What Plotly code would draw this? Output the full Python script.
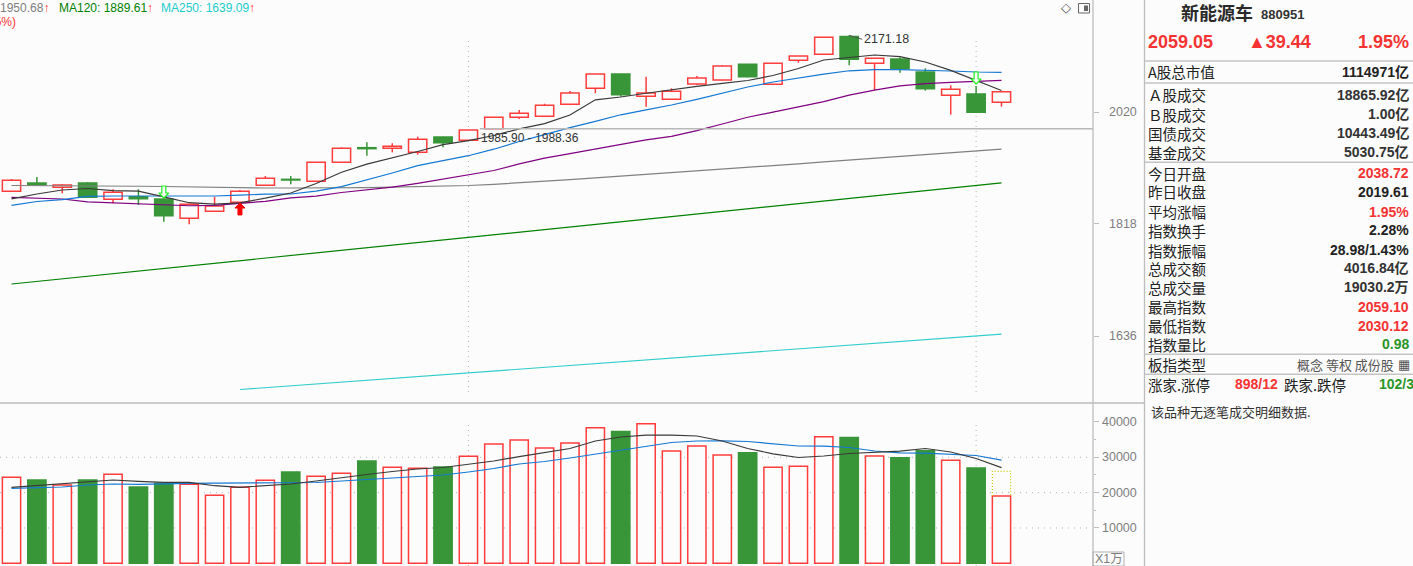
import math
import plotly.graph_objects as go

W, H = 1413, 566
BG = "#fcfcfc"
RED = "#ff3c3c"
GREEN = "#389638"
TXT_RED = "#f53333"
TXT_GREEN = "#2a962a"
DARK = "#222222"
AXIS_GRAY = "#bdbdbd"

# ---------------- data ----------------
idx = list(range(40))
opens = [1874.7, 1889.4, 1881.8, 1889.4, 1860.7, 1865.2, 1861.2, 1827.7, 1839.8, 1855.4,
         1885.3, 1896.0, 1892.5, 1926.6, 1953.3, 1952.2, 1944.8, 1973.0, 1966.9, 1988.36,
         2009.9, 2011.8, 2034.7, 2065.6, 2093.5, 2050.1, 2044.3, 2073.9, 2081.8, 2112.7,
         2073.4, 2120.7, 2132.7, 2169.0, 2114.7, 2123.3, 2097.5, 2052.0, 2054.5, 2038.72]
highs = [1896.6, 1900.1, 1887.6, 1891.2, 1878.3, 1878.3, 1862.0, 1853.0, 1865.2, 1877.0,
         1901.9, 1901.9, 1927.0, 1954.0, 1963.2, 1961.4, 1973.6, 1973.5, 1985.9, 2010.5,
         2023.8, 2035.8, 2060.3, 2094.0, 2094.0, 2088.2, 2065.6, 2089.6, 2111.0, 2113.0,
         2115.0, 2129.5, 2167.5, 2171.18, 2125.0, 2126.7, 2104.8, 2071.4, 2070.0, 2059.10]
lows = [1874.0, 1884.6, 1871.2, 1863.5, 1853.7, 1850.9, 1821.9, 1817.4, 1839.0, 1855.0,
        1885.0, 1887.1, 1892.0, 1926.0, 1938.6, 1944.8, 1940.5, 1954.0, 1966.0, 1988.36,
        2006.7, 2011.0, 2034.0, 2055.9, 2049.3, 2030.1, 2044.0, 2072.0, 2081.0, 2087.0,
        2073.0, 2115.9, 2132.0, 2110.8, 2062.3, 2096.1, 2060.9, 2014.9, 2019.0, 2030.12]
closes = [1894.2, 1886.5, 1885.9, 1864.2, 1873.0, 1861.7, 1832.2, 1852.0, 1849.0, 1874.7,
          1897.8, 1894.8, 1926.6, 1952.2, 1951.5, 1955.8, 1968.8, 1962.5, 1985.9, 2009.9,
          2017.5, 2032.8, 2056.4, 2093.5, 2053.1, 2056.4, 2059.7, 2085.7, 2109.4, 2088.2,
          2114.7, 2129.3, 2167.1, 2122.7, 2124.7, 2104.0, 2064.8, 2063.6, 2019.61, 2059.05]

volumes = [24340, 23580, 22160, 23580, 25190, 21600, 22640, 22360, 19250, 21510,
           23490, 25840, 24620, 25470, 28960, 27170, 26890, 27260, 30290, 33770,
           34930, 32630, 34080, 38380, 37330, 39510, 31780, 33200, 30630, 31300,
           27170, 27460, 35800, 35610, 30340, 29860, 31870, 29180, 26970, 19030]
vol_estimate_last = 26040

vol_ma5 = [21510, 22020, 22500, 23010, 23580, 23210, 22930, 22930, 21960, 21510,
           21880, 22450, 23290, 24290, 25130, 25980, 26690, 27120, 27960, 28950,
           30200, 31360, 32490, 34620, 35750, 36260, 36260, 36030, 34620, 32490,
           30990, 29950, 30370, 31080, 31500, 31730, 32490, 31500, 29660, 27090]
vol_ma10 = [21230, 21400, 21600, 22160, 22450, 22360, 22590, 22640, 22670, 22730,
            22730, 22730, 22870, 23290, 23630, 24140, 24570, 24990, 25840, 26830,
            28110, 28810, 29800, 30940, 32070, 33200, 34190, 34620, 34670, 34470,
            33770, 33200, 33140, 32780, 31790, 31250, 31160, 30850, 30510, 29180]

ma5 = [1861.5, 1870.0, 1877.0, 1879.7, 1876.1, 1874.9, 1864.9, 1854.7, 1852.1, 1854.6,
       1862.6, 1871.8, 1888.5, 1908.6, 1923.2, 1934.4, 1946.3, 1958.8, 1966.2, 1975.8,
       1988.3, 1997.9, 2014.3, 2043.3, 2048.7, 2055.9, 2063.2, 2069.4, 2075.0, 2080.8,
       2090.6, 2104.4, 2121.3, 2126.5, 2131.3, 2127.9, 2117.3, 2100.8, 2080.6, 2061.3]
ma10 = [1850.2, 1856.8, 1860.2, 1865.8, 1866.5, 1866.5, 1866.5, 1866.5, 1866.5, 1867.9,
        1869.8, 1870.0, 1874.9, 1882.9, 1894.4, 1907.3, 1920.5, 1929.3, 1938.6, 1950.5,
        1964.7, 1977.5, 1990.6, 2002.2, 2014.7, 2024.2, 2033.4, 2044.3, 2055.9, 2068.1,
        2077.8, 2086.1, 2093.3, 2099.9, 2102.2, 2102.2, 2101.2, 2099.5, 2097.5, 2096.9]
ma20 = [1863.9, 1863.0, 1861.2, 1856.1, 1854.6, 1852.6, 1850.4, 1849.4, 1849.9, 1853.1,
        1857.2, 1863.3, 1866.1, 1872.6, 1877.5, 1882.0, 1888.7, 1896.6, 1903.5, 1911.8,
        1923.7, 1934.3, 1942.3, 1950.9, 1959.1, 1967.8, 1974.3, 1985.0, 1997.3, 2010.1,
        2019.8, 2029.1, 2039.7, 2052.2, 2062.1, 2070.4, 2074.7, 2077.3, 2079.2, 2081.2]
ma60 = [1885.0, 1885.0, 1884.6, 1884.6, 1884.1, 1883.7, 1883.2, 1882.3, 1881.8, 1881.1,
        1880.6, 1880.6, 1880.6, 1881.1, 1881.4, 1882.0, 1882.7, 1883.5, 1885.0, 1887.1,
        1889.4, 1892.5, 1895.3, 1898.4, 1901.4, 1904.5, 1907.7, 1910.9, 1914.2, 1917.4,
        1920.7, 1923.9, 1927.2, 1930.5, 1933.9, 1937.2, 1940.6, 1944.1, 1947.4, 1950.68]
ma120 = [1718.1, 1722.3, 1726.5, 1730.7, 1735.0, 1739.2, 1743.5, 1747.7, 1752.0, 1756.3,
         1760.6, 1764.9, 1769.2, 1773.5, 1777.9, 1782.2, 1786.6, 1791.0, 1795.3, 1799.7,
         1804.1, 1808.5, 1813.0, 1817.4, 1821.8, 1826.3, 1830.8, 1835.2, 1839.7, 1844.2,
         1848.7, 1853.2, 1857.8, 1862.3, 1866.9, 1871.4, 1876.0, 1880.6, 1885.2, 1889.61]
ma250 = [None] * 9 + [1555.7, 1558.4, 1561.1, 1563.8, 1566.6, 1569.3, 1572.0, 1574.8,
                      1577.5, 1580.3, 1583.0, 1585.8, 1588.5, 1591.3, 1594.1, 1596.8,
                      1599.6, 1602.4, 1605.2, 1608.0, 1610.8, 1613.6, 1616.4, 1619.2,
                      1622.1, 1624.9, 1627.7, 1630.6, 1633.4, 1636.3, 1639.09]

sell_idx = [6, 38]
sell_price = [1873.5, 2085.7]
buy_idx = [9]
buy_price = [1843.8]

gap_idx = 18
gap_low, gap_high = 1985.90, 1988.36
peak_idx, peak_value = 33, 2171.18

price_ticks = [2020, 1818, 1636]
vol_ticks = [40000, 30000, 20000, 10000]
vol_grid = [30000, 20000, 10000]
month_marks = [18, 38]

legend_items = [("MA60: 1950.68", "#808080"), ("MA120: 1889.61", "#008000"), ("MA250: 1639.09", "#22cccc")]

panel_title, panel_code = "新能源车", "880951"
panel_price, panel_change, panel_pct = "2059.05", "▲39.44", "1.95%"
panel_rows = [
    ("A股总市值", "1114971亿", DARK),
    ("Ａ股成交", "18865.92亿", "#333333"),
    ("Ｂ股成交", "1.00亿", "#333333"),
    ("国债成交", "10443.49亿", "#333333"),
    ("基金成交", "5030.75亿", "#333333"),
    ("今日开盘", "2038.72", TXT_RED),
    ("昨日收盘", "2019.61", DARK),
    ("平均涨幅", "1.95%", TXT_RED),
    ("指数换手", "2.28%", DARK),
    ("指数振幅", "28.98/1.43%", DARK),
    ("总成交额", "4016.84亿", "#333333"),
    ("总成交量", "19030.2万", "#333333"),
    ("最高指数", "2059.10", TXT_RED),
    ("最低指数", "2030.12", TXT_RED),
    ("指数量比", "0.98", TXT_GREEN),
]
row_y = [71.7, 95, 114, 133, 152.3, 173.3, 191.7, 211.7, 230, 250, 268.3, 287.5, 306.7, 325.8, 344.2]

# ---------------- layout helpers ----------------
def X(px):
    return px / W


def Y(py):
    return 1 - py / H


CJK = "Noto Sans CJK SC"
LAT = "Liberation Sans, Noto Sans CJK SC"

X_RANGE = [-0.453, 42.605]
X_DOMAIN = [0, X(1093)]
PX_PER_IDX = 1093 / (X_RANGE[1] - X_RANGE[0])
PX_PER_LN = 1062.6
P_TOP = 2020 * math.exp(112 / PX_PER_LN)
P_BOT = 2020 * math.exp(-291 / PX_PER_LN)
BAR_W = 0.72

fig = go.Figure()

# ---- candle bodies (bars on log axis) ----
up = [c >= o for o, c in zip(opens, closes)]
body_base = [min(o, c) for o, c in zip(opens, closes)]
body_len = [abs(c - o) for o, c in zip(opens, closes)]
fig.add_trace(go.Bar(
    x=idx, y=body_len, base=body_base, width=BAR_W,
    marker=dict(color=[BG if u else GREEN for u in up],
                line=dict(color=[RED if u else GREEN for u in up], width=1.5)),
    xaxis="x", yaxis="y", showlegend=False, hoverinfo="skip"))

# ---- wicks (outside body) ----
for want_up, col in [(True, RED), (False, GREEN)]:
    wx, wy = [], []
    for k, o, h, l, c, u in zip(idx, opens, highs, lows, closes, up):
        if u != want_up:
            continue
        top, bot = max(o, c), min(o, c)
        if h > top:
            wx += [k, k, None]
            wy += [top, h, None]
        if l < bot:
            wx += [k, k, None]
            wy += [l, bot, None]
    fig.add_trace(go.Scatter(x=wx, y=wy, mode="lines", line=dict(color=col, width=1.5),
                             xaxis="x", yaxis="y", showlegend=False, hoverinfo="skip"))

ma_specs = [(ma250, "#33cccc"), (ma120, "#008000"), (ma60, "#808080"),
            (ma20, "#800080"), (ma10, "#1478d4"), (ma5, "#3a3a3a")]
for series, col in ma_specs:
    fig.add_trace(go.Scatter(x=idx, y=series, mode="lines", line=dict(color=col, width=1.2),
                             xaxis="x", yaxis="y", showlegend=False, hoverinfo="skip"))

# gap line
fig.add_trace(go.Scatter(x=[gap_idx + 0.45, X_RANGE[1]], y=[gap_high, gap_high], mode="lines",
                         line=dict(color="#b8b8b8", width=1.5), xaxis="x", yaxis="y",
                         showlegend=False, hoverinfo="skip"))

# ---- signal arrows (block arrows built around each signal point) ----
ARROW_UP = [(0, -6), (5, -1), (2, -1), (2, 6), (-2, 6), (-2, -1), (-5, -1), (0, -6)]


def arrow_path(k, price, pointing_up):
    xs, ys = [], []
    for dx, dy in ARROW_UP:
        if not pointing_up:
            dy = -dy
        xs.append(k + dx / PX_PER_IDX)
        ys.append(price * math.exp(-dy / PX_PER_LN))
    return xs, ys


for k, p in zip(sell_idx, sell_price):
    ax_, ay_ = arrow_path(k, p, False)
    fig.add_trace(go.Scatter(x=ax_, y=ay_, mode="lines", fill="toself", fillcolor=BG,
                             line=dict(color="#22ee22", width=1.2), xaxis="x", yaxis="y",
                             showlegend=False, hoverinfo="skip"))
for k, p in zip(buy_idx, buy_price):
    ax_, ay_ = arrow_path(k, p, True)
    fig.add_trace(go.Scatter(x=ax_, y=ay_, mode="lines", fill="toself", fillcolor="#ff0000",
                             line=dict(color="#ff0000", width=1), xaxis="x", yaxis="y",
                             showlegend=False, hoverinfo="skip"))

# ---- volume ----
fig.add_trace(go.Bar(x=idx, y=volumes, width=BAR_W,
                     marker=dict(color=[BG if u else GREEN for u in up],
                                 line=dict(color=[RED if u else GREEN for u in up], width=1.5)),
                     xaxis="x2", yaxis="y2", showlegend=False, hoverinfo="skip"))
last = idx[-1]
fig.add_trace(go.Scatter(
    x=[last - BAR_W / 2, last - BAR_W / 2, last + BAR_W / 2, last + BAR_W / 2],
    y=[volumes[-1], vol_estimate_last, vol_estimate_last, volumes[-1]],
    mode="lines", line=dict(color="#c8c800", width=1.2, dash="1px,2px"),
    xaxis="x2", yaxis="y2", showlegend=False, hoverinfo="skip"))
for series, col in [(vol_ma10, "#1478d4"), (vol_ma5, "#3a3a3a")]:
    fig.add_trace(go.Scatter(x=idx, y=series, mode="lines", line=dict(color=col, width=1.2),
                             xaxis="x2", yaxis="y2", showlegend=False, hoverinfo="skip"))

# ---------------- shapes ----------------
shapes = []
DOT = "1px,5px"
for v in price_ticks:
    shapes.append(dict(type="line", xref="paper", yref="y", x0=0, x1=X(1090),
                       y0=math.log10(v), y1=math.log10(v), layer="below",
                       line=dict(color="#b4b4b4", width=1, dash=DOT)))
for v in vol_grid:
    shapes.append(dict(type="line", xref="paper", yref="y2", x0=0, x1=X(1090), y0=v, y1=v,
                       layer="below", line=dict(color="#b4b4b4", width=1, dash=DOT)))
for m in month_marks:
    shapes.append(dict(type="line", xref="x", yref="paper", x0=m, x1=m, y0=Y(392), y1=Y(38),
                       layer="below", line=dict(color="#b4b4b4", width=1, dash="1px,4px")))
    shapes.append(dict(type="line", xref="x2", yref="paper", x0=m, x1=m, y0=0, y1=Y(423),
                       layer="below", line=dict(color="#b4b4b4", width=1, dash="1px,4px")))

# frame lines
shapes.append(dict(type="line", xref="paper", yref="paper", x0=0, x1=X(1144.5), y0=Y(403), y1=Y(403),
                   line=dict(color=AXIS_GRAY, width=1.5)))
shapes.append(dict(type="line", xref="paper", yref="paper", x0=X(1093), x1=X(1093), y0=0, y1=1,
                   line=dict(color=AXIS_GRAY, width=1.3)))
shapes.append(dict(type="line", xref="paper", yref="paper", x0=X(1144.5), x1=X(1144.5), y0=0, y1=1,
                   line=dict(color=AXIS_GRAY, width=1.3)))
for py in [61, 83, 162.3, 354.3, 374.3]:
    shapes.append(dict(type="line", xref="paper", yref="paper", x0=X(1145), x1=1, y0=Y(py), y1=Y(py),
                       line=dict(color="#c4c4c4", width=1.5)))
# X1万 box
shapes.append(dict(type="rect", xref="paper", yref="paper", x0=X(1093), x1=X(1124), y0=Y(566), y1=Y(552),
                   line=dict(color="#b0b0b0", width=1)))
# toolbar icon
shapes.append(dict(type="rect", xref="paper", yref="paper", x0=X(1078.5), x1=X(1089.5), y0=Y(13), y1=Y(3.5),
                   line=dict(color="#666666", width=1)))
shapes.append(dict(type="rect", xref="paper", yref="paper", x0=X(1084), x1=X(1088), y0=Y(11), y1=Y(5.5),
                   line=dict(width=0), fillcolor="#666666"))

# ---------------- annotations ----------------
ann = []


def txt(x, y, s, size=15, color=DARK, anchor="left", family=CJK):
    ann.append(dict(xref="paper", yref="paper", x=X(x), y=Y(y), text=s, showarrow=False,
                    xanchor=anchor, yanchor="middle", font=dict(size=size, color=color, family=family)))


# legend line
arrow = "<span style='color:#ff3333'>↑</span>"
txt(51, 8, legend_items[0][0] + arrow, size=12, color=legend_items[0][1], anchor="right", family=LAT)
txt(57, 8, legend_items[1][0] + arrow, size=12, color=legend_items[1][1], family=LAT)
txt(159, 8, legend_items[2][0] + arrow, size=12, color=legend_items[2][1], family=LAT)
txt(18, 22, "(1.95%)", size=12, color="#ff3333", anchor="right", family=LAT)
txt(1066, 8, "◇", size=13, color="#555555", anchor="center", family="DejaVu Sans")

# axis labels
for v in price_ticks:
    ann.append(dict(xref="paper", yref="y", x=X(1139), y=math.log10(v), text=str(v), showarrow=False,
                    xanchor="right", yanchor="middle", font=dict(size=12.5, color="#7f7f7f", family=LAT)))
for v in vol_ticks:
    ann.append(dict(xref="paper", yref="y2", x=X(1139), y=v, text=str(v), showarrow=False,
                    xanchor="right", yanchor="middle", font=dict(size=12.5, color="#7f7f7f", family=LAT)))
txt(1108.5, 558.5, "X1万", size=12.5, color="#7f7f7f", anchor="center", family=LAT)

# chart labels
ann.append(dict(xref="x", yref="y", x=peak_idx, y=math.log10(peak_value), text=f"{peak_value:.2f}",
                showarrow=True, arrowhead=0, arrowwidth=1, arrowcolor="#555555", ax=13, ay=4,
                xanchor="left", yanchor="middle", font=dict(size=12.5, color="#333333", family=LAT)))
ann.append(dict(xref="x", yref="y", x=gap_idx, y=math.log10(gap_low),
                text=f"{gap_low:.2f} - {gap_high:.2f}", showarrow=False, xshift=11, yshift=-8,
                xanchor="left", yanchor="middle", font=dict(size=12, color="#333333", family=LAT)))

# info panel
txt(1179, 12, "<b>" + panel_title + "</b>", size=18, color="#2a2a2a")
txt(1259, 14.5, "<b>" + panel_code + "</b>", size=13, color="#333333", family=LAT)
txt(1146, 42, "<b>" + panel_price + "</b>", size=18, color=TXT_RED, family=LAT)
txt(1246, 42, "<b>" + panel_change + "</b>", size=18, color=TXT_RED, family=LAT)
txt(1411, 42, "<b>" + panel_pct + "</b>", size=18, color=TXT_RED, anchor="right", family=LAT)
for (label, val, col), py in zip(panel_rows, row_y):
    txt(1146, py, label, size=14.5, color=DARK)
    txt(1411, py, "<b>" + val + "</b>", size=14, color=col, anchor="right", family=LAT)
txt(1146, 364, "板指类型", size=14.5, color=DARK)
txt(1396, 364, "概念 等权 成份股", size=13, color="#555555", anchor="right")
txt(1403.5, 364, "▦", size=13, color="#555555", anchor="center", family="DejaVu Sans")
txt(1146, 384.3, "涨家.涨停", size=14.5, color=DARK)
txt(1233, 384.3, "<b>898/12</b>", size=14, color=TXT_RED, family=LAT)
txt(1282, 384.3, "跌家.跌停", size=14.5, color=DARK)
txt(1377, 384.3, "<b>102/3</b>", size=14, color=TXT_GREEN, family=LAT)
txt(1149, 411.5, "该品种无逐笔成交明细数据.", size=13, color="#333333")

fig.update_layout(
    width=W, height=H, margin=dict(l=0, r=0, t=0, b=0),
    paper_bgcolor=BG, plot_bgcolor=BG, showlegend=False,
    xaxis=dict(domain=X_DOMAIN, range=X_RANGE, visible=False, anchor="y", fixedrange=True),
    xaxis2=dict(domain=X_DOMAIN, range=X_RANGE, visible=False, anchor="y2", fixedrange=True),
    yaxis=dict(domain=[Y(403), 1], type="log", range=[math.log10(P_BOT), math.log10(P_TOP)],
               side="right", anchor="x", showgrid=False, zeroline=False, showline=False,
               tickvals=price_ticks, ticks="outside", ticklen=5, tickcolor=AXIS_GRAY,
               showticklabels=False, fixedrange=True),
    yaxis2=dict(domain=[0, Y(404)], range=[-764, 45090], side="right", anchor="x2",
                showgrid=False, zeroline=False, showline=False, tickvals=vol_ticks,
                ticks="outside", ticklen=5, tickcolor=AXIS_GRAY, showticklabels=False,
                minor=dict(tickvals=[35000, 25000, 15000], ticks="outside", ticklen=2,
                           tickcolor=AXIS_GRAY),
                fixedrange=True),
    shapes=shapes, annotations=ann,
)

fig.write_html("out.html", config={"displayModeBar": False},
               post_script="document.body.style.margin='0';document.body.style.overflow='hidden';")
